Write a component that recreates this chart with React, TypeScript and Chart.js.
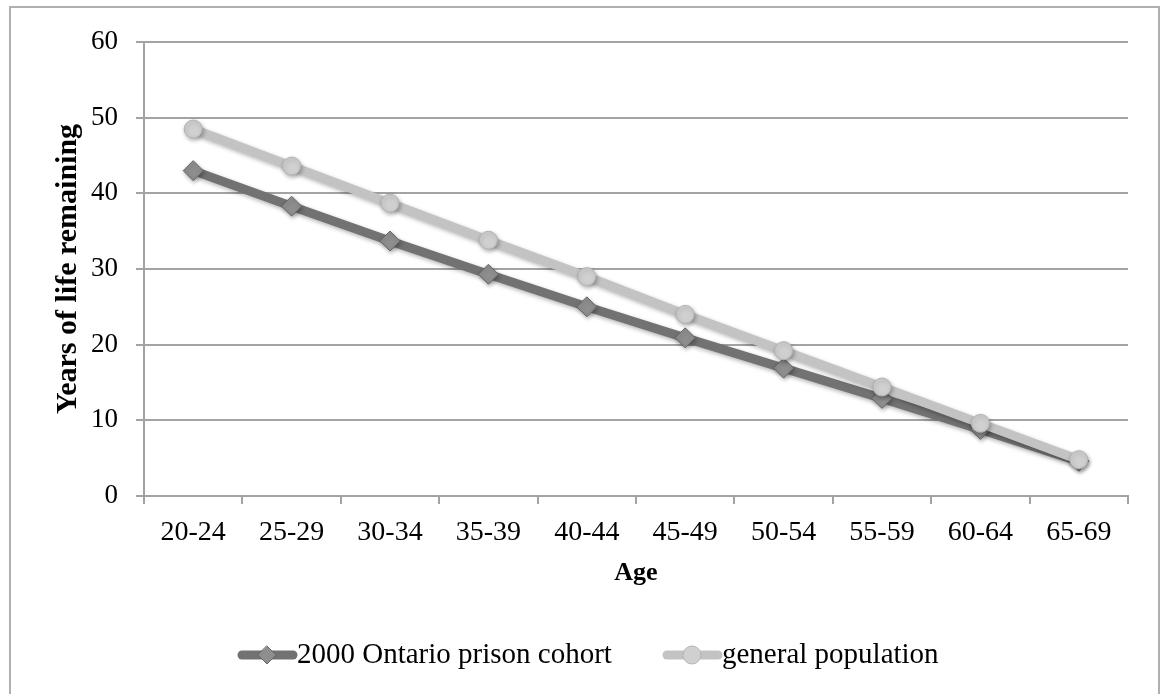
import React, { useEffect, useRef } from "react";
import { Chart, registerables } from "chart.js";

Chart.register(...registerables);

const ageGroups = ["20-24", "25-29", "30-34", "35-39", "40-44", "45-49", "50-54", "55-59", "60-64", "65-69"];
const prisonCohort = [43.0, 38.3, 33.7, 29.3, 25.0, 20.9, 16.9, 12.9, 8.8, 4.6];
const generalPopulation = [48.5, 43.6, 38.7, 33.8, 29.0, 24.0, 19.2, 14.4, 9.6, 4.8];
const seriesNames = ["2000 Ontario prison cohort", "general population"];
const yTitle = "Years of life remaining";
const xTitle = "Age";

const FONT = "'Liberation Serif', serif";
const GRID = "#a3a3a3";

const shadowPlugin = {
  id: "shadow",
  beforeDatasetsDraw(chart: any) {
    const ctx = chart.ctx;
    ctx.save();
    ctx.shadowColor = "rgba(0,0,0,0.3)";
    ctx.shadowBlur = 4;
    ctx.shadowOffsetX = 1;
    ctx.shadowOffsetY = 2;
  },
  afterDatasetsDraw(chart: any) {
    chart.ctx.restore();
  },
};

const legendPlugin = {
  id: "customLegend",
  afterDraw(chart: any) {
    const ctx = chart.ctx;
    const y = 655;
    const items = [
      { x: 238, ds: chart.data.datasets[0] },
      { x: 663, ds: chart.data.datasets[1] },
    ];
    ctx.save();
    items.forEach(({ x, ds }) => {
      ctx.strokeStyle = ds.borderColor;
      ctx.lineWidth = 9;
      ctx.lineCap = "round";
      ctx.beginPath();
      ctx.moveTo(x + 4, y);
      ctx.lineTo(x + 55, y);
      ctx.stroke();
      const cx = x + 29;
      ctx.fillStyle = ds.pointBackgroundColor;
      ctx.strokeStyle = ds.pointBorderColor;
      ctx.lineWidth = 1;
      ctx.beginPath();
      if (ds.pointStyle === "rectRot") {
        const r = 9;
        ctx.moveTo(cx, y - r);
        ctx.lineTo(cx + r, y);
        ctx.lineTo(cx, y + r);
        ctx.lineTo(cx - r, y);
        ctx.closePath();
      } else {
        ctx.arc(cx, y, 9, 0, Math.PI * 2);
      }
      ctx.fill();
      ctx.stroke();
      ctx.fillStyle = "#000";
      ctx.font = `29px ${FONT}`;
      ctx.textBaseline = "middle";
      ctx.textAlign = "left";
      ctx.fillText(ds.label, x + 59, y);
    });
    ctx.restore();
  },
};

export default function App() {
  const ref = useRef<HTMLCanvasElement>(null);
  useEffect(() => {
    if (!ref.current) return;
    Chart.defaults.color = "#000";
    const chart = new Chart(ref.current, {
      type: "line",
      data: {
        labels: ageGroups,
        datasets: [
          {
            label: seriesNames[0],
            data: prisonCohort,
            borderColor: "#727272",
            borderWidth: 9,
            pointStyle: "rectRot",
            pointRadius: 10,
            pointBackgroundColor: "#8e8e8e",
            pointBorderColor: "#666666",
            pointBorderWidth: 1,
            order: 2,
          },
          {
            label: seriesNames[1],
            data: generalPopulation,
            borderColor: "#c3c3c3",
            borderWidth: 9,
            pointStyle: "circle",
            pointRadius: 9,
            pointBackgroundColor: "#d0d0d0",
            pointBorderColor: "#b3b3b3",
            pointBorderWidth: 1,
            order: 1,
          },
        ],
      },
      options: {
        animation: false,
        responsive: false,
        devicePixelRatio: 1,
        layout: { padding: { left: 0, right: 37, top: 42, bottom: 0 } },
        plugins: { legend: { display: false }, tooltip: { enabled: false } },
        scales: {
          x: {
            offset: true,
            grid: { offset: true, drawOnChartArea: false, drawTicks: true, tickLength: 8, color: GRID, lineWidth: 2 },
            border: { display: true, color: GRID, width: 2 },
            ticks: { font: { family: FONT, size: 28 }, padding: 12, maxRotation: 0 },
            title: { display: true, text: xTitle, font: { family: FONT, size: 26, weight: "bold" }, padding: { top: 0, bottom: 105 } },
            afterFit(scale: any) { scale.height = 198; },
          },
          y: {
            min: 0,
            max: 60,
            ticks: { stepSize: 10, font: { family: FONT, size: 27 }, padding: 18 },
            grid: { color: GRID, lineWidth: 2, tickLength: 8 },
            border: { display: true, color: GRID, width: 2 },
            title: { display: true, text: yTitle, font: { family: FONT, size: 30, weight: "bold" }, padding: { top: 50, bottom: 0 } },
            afterFit(scale: any) { scale.width = 144; },
          },
        },
      },
      plugins: [shadowPlugin, legendPlugin],
    } as any);
    return () => chart.destroy();
  }, []);
  return (
    <div style={{ position: "fixed", left: 0, top: 0, width: 1165, height: 694, background: "#fff", overflow: "hidden" }}>
      <div style={{ position: "absolute", left: 9, top: 6, width: 1151, height: 720, border: "2px solid #b0b0b0", boxSizing: "border-box" }} />
      <canvas ref={ref} width={1165} height={694} style={{ position: "absolute", left: 0, top: 0 }} />
    </div>
  );
}
